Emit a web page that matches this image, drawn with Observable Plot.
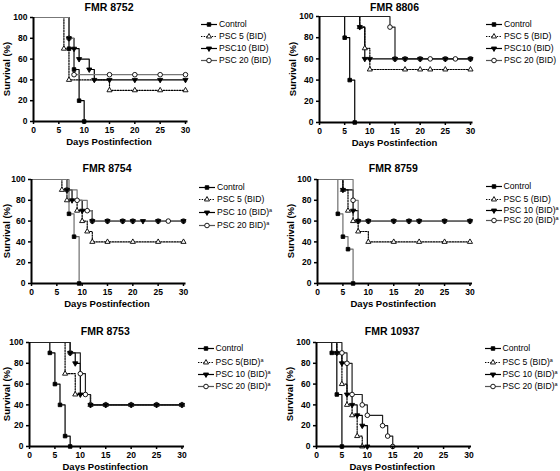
<!DOCTYPE html>
<html><head><meta charset="utf-8">
<script src="https://cdn.jsdelivr.net/npm/d3@7"></script>
<script src="https://cdn.jsdelivr.net/npm/@observablehq/plot@0.6"></script>
<style>
body{margin:0;background:#fff;}
#fig{position:relative;width:560px;height:471px;font-family:"Liberation Sans",Arial,sans-serif;overflow:hidden;color:#000;}
.abs{position:absolute;white-space:nowrap;}
.title{font-weight:bold;font-size:10.5px;line-height:11px;transform:translate(-50%,-50%);}
.xt{font-weight:bold;font-size:9.5px;line-height:10px;transform:translate(-50%,-50%);}
.yt{font-weight:bold;font-size:9.5px;line-height:10px;transform:translate(-50%,-50%) rotate(-90deg);}
.leg{font-size:8.6px;line-height:9px;transform:translateY(-50%);display:flex;align-items:center;}
.leg svg{display:block;margin-right:2px;overflow:visible;}
.leg sup{font-size:5.5px;position:relative;top:-3.5px;vertical-align:baseline;line-height:0;}
svg.plot{position:absolute;overflow:visible;}
</style></head><body><div id="fig"></div><script>
// ---------- data ----------
const seriesNames = ["Control", "PSC 5", "PSC 10", "PSC 20"];
const panelTitles = ["FMR 8752", "FMR 8806", "FMR 8754", "FMR 8759", "FMR 8753", "FMR 10937"];
const xTicks = [0, 5, 10, 15, 20, 25, 30];
const yTicks = [0, 20, 40, 60, 80, 100];
const xTitle = "Days Postinfection";
const yTitle = "Survival (%)";
const legendLabels = [
  ["Control", "PSC 5 (BID)", "PSC10 (BID)", "PSC 20 (BID)"],
  ["Control", "PSC 5 (BID)", "PSC10 (BID)", "PSC 20 (BID)"],
  ["Control", "PSC 5 (BID)", "PSC 10 (BID)", "PSC 20 BID)"],
  ["Control", "PSC 5 (BID)", "PSC 10 (BID)", "PSC 20 (BID)"],
  ["Control", "PSC 5(BID)", "PSC 10 (BID)", "PSC 20 (BID)"],
  ["Control", "PSC 5 (BID)", "PSC 10 (BID)", "PSC 20 (BID)"]
];
const legendSup = [
  ["", "", "", ""], ["", "", "", ""], ["", "", "a", "a"],
  ["", "", "a", "a"], ["", "a", "a", "a"], ["", "a", "a", "a"]
];

// step curves: [series, day, survival %]
const fmr8752Steps = [
  ["Control",0,100],["Control",7,70],["Control",8,50],["Control",9,20],["Control",10,0],
  ["PSC 5",0,100],["PSC 5",6,70],["PSC 5",7,40],["PSC 5",15,30],["PSC 5",30,30],
  ["PSC 10",0,100],["PSC 10",7,80],["PSC 10",8,70],["PSC 10",9,60],["PSC 10",11,50],["PSC 10",12,40],["PSC 10",30,40],
  ["PSC 20",0,100],["PSC 20",7,80],["PSC 20",8,45],["PSC 20",30,45]
];
const fmr8752Marks = [
  ["Control",7,70],["Control",8,50],["Control",9,20],["Control",10,0],
  ["PSC 5",6,70],["PSC 5",7,40],["PSC 5",15,30],["PSC 5",20,30],["PSC 5",25,30],["PSC 5",30,30],
  ["PSC 10",7,80],["PSC 10",8,70],["PSC 10",9,60],["PSC 10",11,50],["PSC 10",12,40],["PSC 10",15,40],["PSC 10",20,40],["PSC 10",25,40],["PSC 10",30,40],
  ["PSC 20",7,80],["PSC 20",8,45],["PSC 20",15,45],["PSC 20",20,45],["PSC 20",25,45],["PSC 20",30,45]
];
const fmr8806Steps = [
  ["Control",0,100],["Control",5,80],["Control",6,40],["Control",7,0],
  ["PSC 5",0,100],["PSC 5",8,90],["PSC 5",9,70],["PSC 5",10,50],["PSC 5",30,50],
  ["PSC 10",0,100],["PSC 10",8,90],["PSC 10",9,60],["PSC 10",30,60],
  ["PSC 20",0,100],["PSC 20",14,90],["PSC 20",15,60],["PSC 20",30,60]
];
const fmr8806Marks = [
  ["Control",5,80],["Control",6,40],["Control",7,0],
  ["PSC 5",8,90],["PSC 5",9,70],["PSC 5",10,50],["PSC 5",17,50],["PSC 5",20,50],["PSC 5",22,50],["PSC 5",25,50],["PSC 5",30,50],
  ["PSC 10",8,90],["PSC 10",9,60],["PSC 10",10,60],["PSC 10",15,60],["PSC 10",17,60],["PSC 10",20,60],["PSC 10",25,60],["PSC 10",30,60],
  ["PSC 20",14,90],["PSC 20",15,60],["PSC 20",17,60],["PSC 20",20,60],["PSC 20",22,60],["PSC 20",25,60],["PSC 20",27,60],["PSC 20",30,60]
];
const fmr8754Steps = [
  ["Control",0,100],["Control",7.4,67],["Control",8.4,45],["Control",9.4,0],
  ["PSC 5",0,100],["PSC 5",6,90],["PSC 5",7,80],["PSC 5",9,70],["PSC 5",10,60],["PSC 5",11,50],["PSC 5",12,40],["PSC 5",30,40],
  ["PSC 10",0,100],["PSC 10",7,90],["PSC 10",8,80],["PSC 10",10,70],["PSC 10",12,60],["PSC 10",30,60],
  ["PSC 20",0,100],["PSC 20",7,90],["PSC 20",9,80],["PSC 20",11,70],["PSC 20",12,60],["PSC 20",30,60]
];
const fmr8754Marks = [
  ["Control",7.4,67],["Control",8.4,45],["Control",9.4,0],
  ["PSC 5",6,90],["PSC 5",7,80],["PSC 5",9,70],["PSC 5",10,60],["PSC 5",11,50],["PSC 5",12,40],["PSC 5",15,40],["PSC 5",20,40],["PSC 5",25,40],["PSC 5",30,40],
  ["PSC 10",7,90],["PSC 10",8,80],["PSC 10",10,70],["PSC 10",12,60],["PSC 10",15,60],["PSC 10",18,60],["PSC 10",20,60],["PSC 10",22,60],["PSC 10",25,60],["PSC 10",30,60],
  ["PSC 20",7,90],["PSC 20",9,80],["PSC 20",11,70],["PSC 20",12,60],["PSC 20",15,60],["PSC 20",18,60],["PSC 20",20,60],["PSC 20",25,60],["PSC 20",27,60],["PSC 20",30,60]
];
const fmr8759Steps = [
  ["Control",0,100],["Control",4,67],["Control",5,45],["Control",6,33],["Control",7,0],
  ["PSC 5",0,100],["PSC 5",5,90],["PSC 5",6,70],["PSC 5",7,60],["PSC 5",8,50],["PSC 5",10,40],["PSC 5",30,40],
  ["PSC 10",0,100],["PSC 10",5,90],["PSC 10",7,70],["PSC 10",8,60],["PSC 10",30,60],
  ["PSC 20",0,100],["PSC 20",7,80],["PSC 20",8,60],["PSC 20",30,60]
];
const fmr8759Marks = [
  ["Control",4,67],["Control",5,45],["Control",6,33],["Control",7,0],
  ["PSC 5",5,90],["PSC 5",6,70],["PSC 5",7,60],["PSC 5",8,50],["PSC 5",10,40],["PSC 5",15,40],["PSC 5",20,40],["PSC 5",25,40],["PSC 5",30,40],
  ["PSC 10",5,90],["PSC 10",7,70],["PSC 10",8,60],["PSC 10",10,60],["PSC 10",15,60],["PSC 10",18,60],["PSC 10",20,60],["PSC 10",25,60],["PSC 10",30,60],
  ["PSC 20",7,80],["PSC 20",8,60],["PSC 20",10,60],["PSC 20",15,60],["PSC 20",18,60],["PSC 20",20,60],["PSC 20",25,60],["PSC 20",30,60]
];
const fmr8753Steps = [
  ["Control",0,100],["Control",4,90],["Control",5,60],["Control",6,40],["Control",7,10],["Control",8,0],
  ["PSC 5",0,100],["PSC 5",7,70],["PSC 5",9,50],["PSC 5",12,40],["PSC 5",30,40],
  ["PSC 10",0,100],["PSC 10",8,90],["PSC 10",9,80],["PSC 10",10,50],["PSC 10",12,40],["PSC 10",30,40],
  ["PSC 20",0,100],["PSC 20",8,90],["PSC 20",10,70],["PSC 20",11,50],["PSC 20",12,40],["PSC 20",30,40]
];
const fmr8753Marks = [
  ["Control",4,90],["Control",5,60],["Control",6,40],["Control",7,10],["Control",8,0],
  ["PSC 5",7,70],["PSC 5",9,50],["PSC 5",12,40],["PSC 5",15,40],["PSC 5",20,40],["PSC 5",25,40],["PSC 5",30,40],
  ["PSC 10",8,90],["PSC 10",9,80],["PSC 10",10,50],["PSC 10",12,40],["PSC 10",15,40],["PSC 10",20,40],["PSC 10",25,40],["PSC 10",30,40],
  ["PSC 20",8,90],["PSC 20",10,70],["PSC 20",11,50],["PSC 20",12,40],["PSC 20",15,40],["PSC 20",20,40],["PSC 20",25,40],["PSC 20",30,40]
];
const fmr10937Steps = [
  ["Control",0,100],["Control",3,90],["Control",4,50],["Control",5,0],
  ["PSC 5",0,100],["PSC 5",4,90],["PSC 5",5,60],["PSC 5",6,40],["PSC 5",7,30],["PSC 5",8,10],["PSC 5",9,0],
  ["PSC 10",0,100],["PSC 10",4,90],["PSC 10",5,80],["PSC 10",6,50],["PSC 10",7,40],["PSC 10",8,30],["PSC 10",9,20],["PSC 10",10,0],
  ["PSC 20",0,100],["PSC 20",5,90],["PSC 20",6,80],["PSC 20",7,50],["PSC 20",9,40],["PSC 20",10,30],["PSC 20",13,20],["PSC 20",14,10],["PSC 20",15,0]
];
const fmr10937Marks = fmr10937Steps.filter(d => d[1] > 0);

const panelSteps = [fmr8752Steps, fmr8806Steps, fmr8754Steps, fmr8759Steps, fmr8753Steps, fmr10937Steps];
const panelMarks = [fmr8752Marks, fmr8806Marks, fmr8754Marks, fmr8759Marks, fmr8753Marks, fmr10937Marks];

// ---------- layout & style ----------
const layout = [
  {x0:33,  x30:185,   y100:17,  y0:121, legY:[24,36,48,60]},
  {x0:319, x30:470,   y100:16,  y0:122, legY:[24,36,48,60]},
  {x0:31,  x30:183,   y100:179, y0:283, legY:[187,199,212,225]},
  {x0:317, x30:469.5, y100:179, y0:283, legY:[186,199,210,220]},
  {x0:29,  x30:181.5, y100:342, y0:446, legY:[348,362,374,386]},
  {x0:316, x30:468.5, y100:342, y0:446, legY:[348,362,374,386]}
];
const controlGray = [false, false, true, true, false, false];
const psc20Gray = [true, false, true, true, false, false];
const sqrt3 = Math.sqrt(3);
const triangleDown = {
  draw(context, size) {
    const y = -Math.sqrt(size / (sqrt3 * 3));
    context.moveTo(0, -y * 2);
    context.lineTo(-sqrt3 * y, y);
    context.lineTo(sqrt3 * y, y);
    context.closePath();
  }
};
function styleOf(name, i) {
  switch (name) {
    case "Control": return {stroke: controlGray[i] ? "#6e6e6e" : "#000", dash: null, symbol: d3.symbolSquare, fill: "#000", r: 2.0};
    case "PSC 5":   return {stroke: "#000", dash: "1.4,1.3", symbol: d3.symbolTriangle, fill: "#fff", r: 1.9};
    case "PSC 10":  return {stroke: "#000", dash: null, symbol: triangleDown, fill: "#000", r: 1.9};
    default:        return {stroke: psc20Gray[i] ? "#777" : "#222", dash: null, symbol: d3.symbolCircle, fill: "#fff", r: 2.3};
  }
}

const fig = document.getElementById("fig");
const mL = 30, mR = 6, mT = 6, mB = 20;

layout.forEach((L, i) => {
  const ppd = (L.x30 - L.x0) / 30;
  const w = mL + ppd * 30.5 + mR;
  const h = mT + (L.y0 - L.y100) + mB;
  const steps = panelSteps[i], marks = panelMarks[i];
  const lineOrder = ["Control", "PSC 5", "PSC 10", "PSC 20"];
  const dotOrder = ["PSC 5", "PSC 20", "PSC 10", "Control"];
  const chart = Plot.plot({
    width: w, height: h,
    marginLeft: mL, marginRight: mR, marginTop: mT, marginBottom: mB,
    x: {domain: [0, 30.5]},
    y: {domain: [0, 100]},
    style: {fontFamily: '"Liberation Sans", Arial, sans-serif', fontSize: "8.5px", fontWeight: "bold", color: "#000", background: "transparent"},
    marks: [
      ...lineOrder.map(n => {
        const s = styleOf(n, i);
        return Plot.line(steps, {filter: d => d[0] === n, x: d => d[1], y: d => d[2], curve: "step-after",
          stroke: s.stroke, strokeWidth: 1.2, strokeDasharray: s.dash});
      }),
      ...dotOrder.map(n => {
        const s = styleOf(n, i);
        return Plot.dot(marks, {filter: d => d[0] === n, x: d => d[1], y: d => d[2], symbol: s.symbol,
          r: s.r, fill: s.fill, stroke: "#000", strokeWidth: 0.9});
      }),
      Plot.ruleY([0], {stroke: "#000", strokeWidth: 2}),
      Plot.ruleX([0], {stroke: "#000", strokeWidth: 2}),
      Plot.axisX(xTicks, {tickSize: 3, tickPadding: 2, label: null, strokeWidth: 1.5}),
      Plot.axisY(yTicks, {tickSize: 3, tickPadding: 3, label: null, strokeWidth: 1.5})
    ]
  });
  chart.classList.add("plot");
  chart.style.left = (L.x0 - mL) + "px";
  chart.style.top = (L.y100 - mT) + "px";
  fig.appendChild(chart);

  const cx = (L.x0 + L.x30) / 2;
  const addText = (cls, x, y, txt) => {
    const d = document.createElement("div");
    d.className = "abs " + cls;
    d.style.left = x + "px"; d.style.top = y + "px";
    d.textContent = txt;
    fig.appendChild(d);
  };
  addText("title", cx, Math.max(L.y100 - 11, 6.5), panelTitles[i]);
  addText("xt", cx, L.y0 + 21, xTitle);
  addText("yt", Math.max(L.x0 - 26, 6.5), (L.y100 + L.y0) / 2, yTitle);

  seriesNames.forEach((n, k) => {
    const s = styleOf(n, i);
    const row = document.createElement("div");
    row.className = "abs leg";
    row.style.left = (L.x30 + 16) + "px";
    row.style.top = L.legY[k] + "px";
    const sw = d3.create("svg").attr("width", 16).attr("height", 8);
    sw.append("line").attr("x1", 0).attr("x2", 16).attr("y1", 4).attr("y2", 4)
      .attr("stroke", n === "PSC 20" ? "#555" : "#000").attr("stroke-width", 1.2)
      .attr("stroke-dasharray", s.dash);
    sw.append("path").attr("transform", "translate(8,4)")
      .attr("d", d3.symbol(s.symbol, s.r * s.r * Math.PI)())
      .attr("fill", s.fill).attr("stroke", "#000").attr("stroke-width", 0.9);
    row.appendChild(sw.node());
    const txt = document.createElement("span");
    txt.textContent = legendLabels[i][k];
    if (legendSup[i][k]) {
      const sup = document.createElement("sup");
      sup.textContent = legendSup[i][k];
      txt.appendChild(sup);
    }
    row.appendChild(txt);
    fig.appendChild(row);
  });
});
</script></body></html>
